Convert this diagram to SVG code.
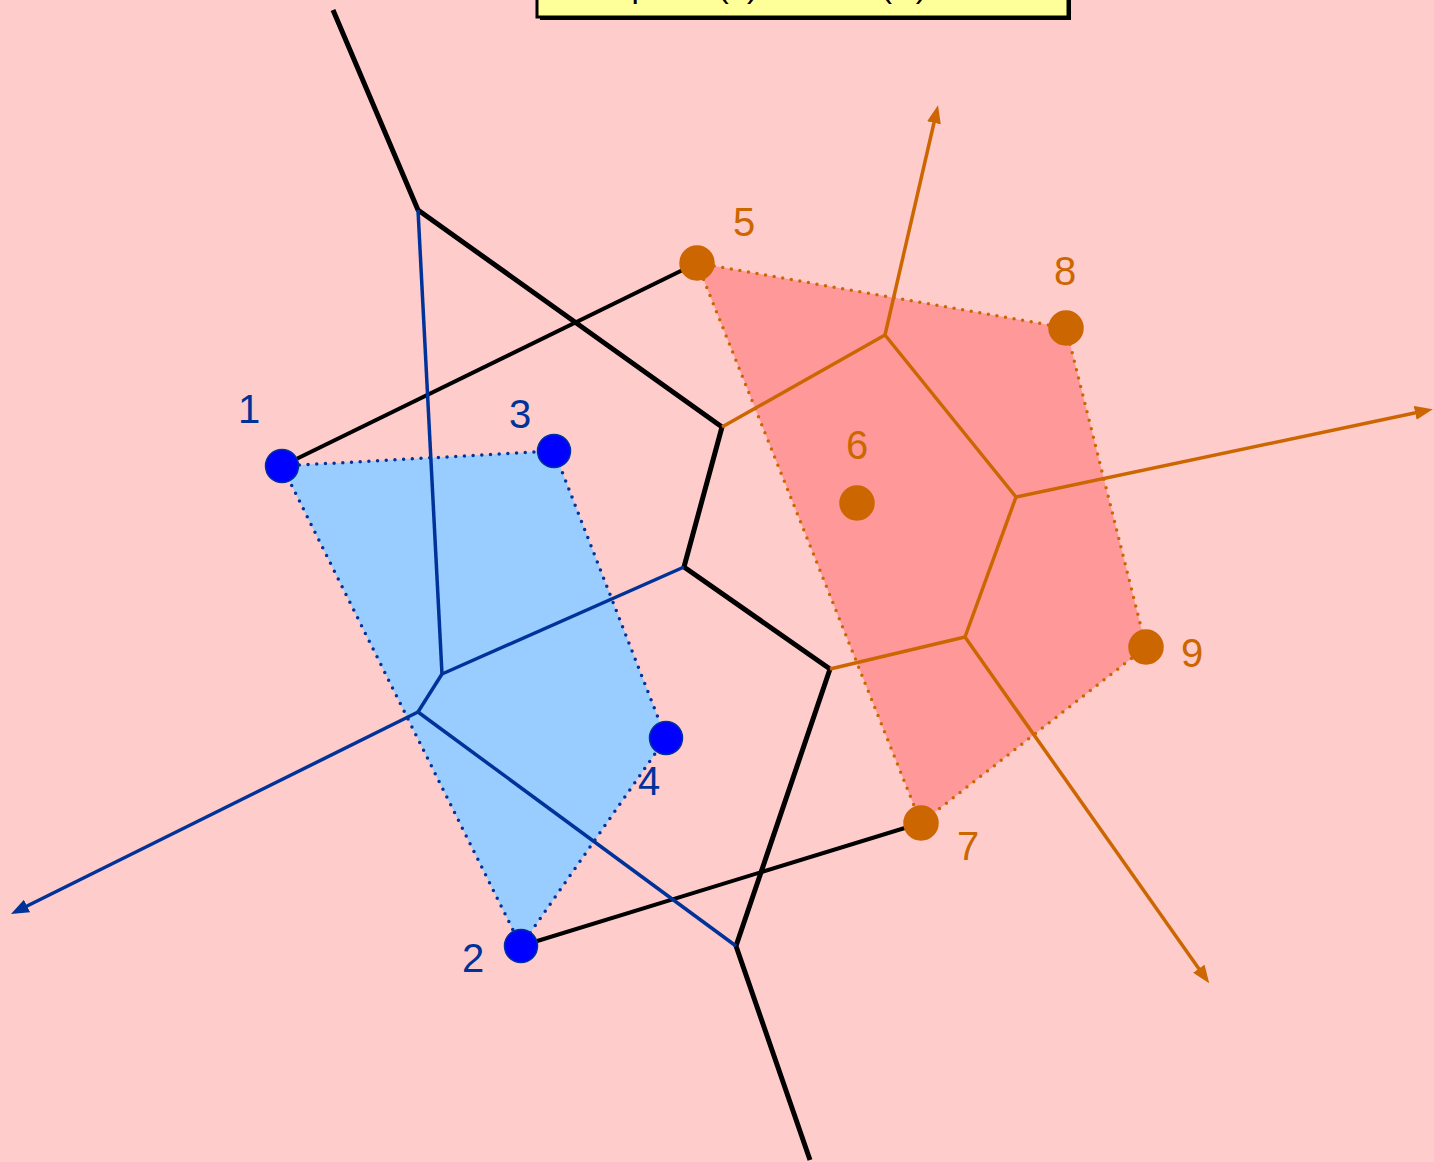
<svg xmlns="http://www.w3.org/2000/svg" width="1434" height="1162" viewBox="0 0 1434 1162">
  <style>
    .lbl { font-family: "Liberation Sans", Arial, sans-serif; font-size: 40px; text-anchor: middle; }
    .lbl-l { fill: #003399; }
    .lbl-r { fill: #CC6600; }
    .site-l { fill: #0000FF; stroke: #003399; stroke-width: 1.5; }
    .site-r { fill: #CC6600; stroke: #CC6600; stroke-width: 1.5; }
    .hull { stroke-width: 3.5; stroke-dasharray: 0 8.7; stroke-linecap: round; stroke-linejoin: round; }
    .vor-l { fill: none; stroke: #003399; stroke-width: 3.5; stroke-linejoin: round; }
    .vor-r { fill: none; stroke: #CC6600; stroke-width: 3.5; stroke-linejoin: round; }
    .chain { fill: none; stroke: #000; stroke-width: 5; stroke-linejoin: round; }
    .bridge { fill: none; stroke: #000; stroke-width: 4; }
  </style>
  <defs>
    <marker id="arrow-l" markerUnits="userSpaceOnUse" markerWidth="18" markerHeight="14" refX="9" refY="7" orient="auto">
      <path d="M0,0 L18,7 L0,14 z" fill="#003399"/>
    </marker>
    <marker id="arrow-r" markerUnits="userSpaceOnUse" markerWidth="18" markerHeight="14" refX="9" refY="7" orient="auto">
      <path d="M0,0 L18,7 L0,14 z" fill="#CC6600"/>
    </marker>
  </defs>

  <rect width="1434" height="1162" fill="#FFCCCC"/>

  <!-- title box (top edge lies above the page) -->
  <g id="title">
    <rect x="540" y="-20" width="531" height="40" fill="#000"/>
    <rect x="537" y="-20" width="531" height="37" fill="#FFFF99" stroke="#000" stroke-width="3"/>
    <text x="582" y="-3" font-family="Liberation Sans, Arial, sans-serif" font-size="33" fill="#000">Step: Vor(L) and Vor(R)</text>
  </g>

  <!-- convex hulls -->
  <g id="hull-left">
    <polygon points="282,466 554,451 666,738 521,946" fill="#99CCFF" stroke="#003399" class="hull"/>
  </g>
  <g id="hull-right">
    <polygon points="697,263 1066,328 1146,647 921,823" fill="#FF9999" stroke="#CC6600" class="hull"/>
  </g>

  <g id="connectors">
    <!-- upper and lower bridges between the hulls -->
    <line x1="282" y1="466" x2="697" y2="263" class="bridge"/>
    <line x1="521" y1="946" x2="921" y2="823" class="bridge"/>
    <!-- merge chain -->
    <polyline points="333,10 418,210 722,427 684,567 830,669 736,946 810,1160" class="chain"/>
    <!-- left Voronoi edges -->
    <line x1="418" y1="210" x2="442" y2="674" class="vor-l"/>
    <line x1="684" y1="567" x2="442" y2="674" class="vor-l"/>
    <line x1="442" y1="674" x2="418" y2="712" class="vor-l"/>
    <line x1="418" y1="712" x2="736" y2="946" class="vor-l"/>
    <line x1="418" y1="712" x2="19" y2="910" class="vor-l" marker-end="url(#arrow-l)"/>
    <!-- right Voronoi edges -->
    <line x1="722" y1="427" x2="885" y2="335" class="vor-r"/>
    <line x1="885" y1="335" x2="936" y2="114" class="vor-r" marker-end="url(#arrow-r)"/>
    <line x1="885" y1="335" x2="1016" y2="497" class="vor-r"/>
    <line x1="1016" y1="497" x2="1424" y2="411" class="vor-r" marker-end="url(#arrow-r)"/>
    <line x1="1016" y1="497" x2="965" y2="637" class="vor-r"/>
    <line x1="965" y1="637" x2="830" y2="669" class="vor-r"/>
    <line x1="965" y1="637" x2="1204" y2="976" class="vor-r" marker-end="url(#arrow-r)"/>
  </g>

  <!-- sites -->
  <g id="site-1"><circle cx="282" cy="466" r="16.5" class="site-l"/><text x="249" y="423" class="lbl lbl-l">1</text></g>
  <g id="site-2"><circle cx="521" cy="946" r="16.5" class="site-l"/><text x="473" y="972" class="lbl lbl-l">2</text></g>
  <g id="site-3"><circle cx="554" cy="451" r="16.5" class="site-l"/><text x="520" y="428" class="lbl lbl-l">3</text></g>
  <g id="site-4"><circle cx="666" cy="738" r="16.5" class="site-l"/><text x="649" y="795" class="lbl lbl-l">4</text></g>
  <g id="site-5"><circle cx="697" cy="263" r="17" class="site-r"/><text x="744" y="236" class="lbl lbl-r">5</text></g>
  <g id="site-6"><circle cx="857" cy="503" r="17" class="site-r"/><text x="857" y="459" class="lbl lbl-r">6</text></g>
  <g id="site-7"><circle cx="921" cy="823" r="17" class="site-r"/><text x="968" y="860" class="lbl lbl-r">7</text></g>
  <g id="site-8"><circle cx="1066" cy="328" r="17" class="site-r"/><text x="1065" y="285" class="lbl lbl-r">8</text></g>
  <g id="site-9"><circle cx="1146" cy="647" r="17" class="site-r"/><text x="1192" y="667" class="lbl lbl-r">9</text></g>
</svg>
